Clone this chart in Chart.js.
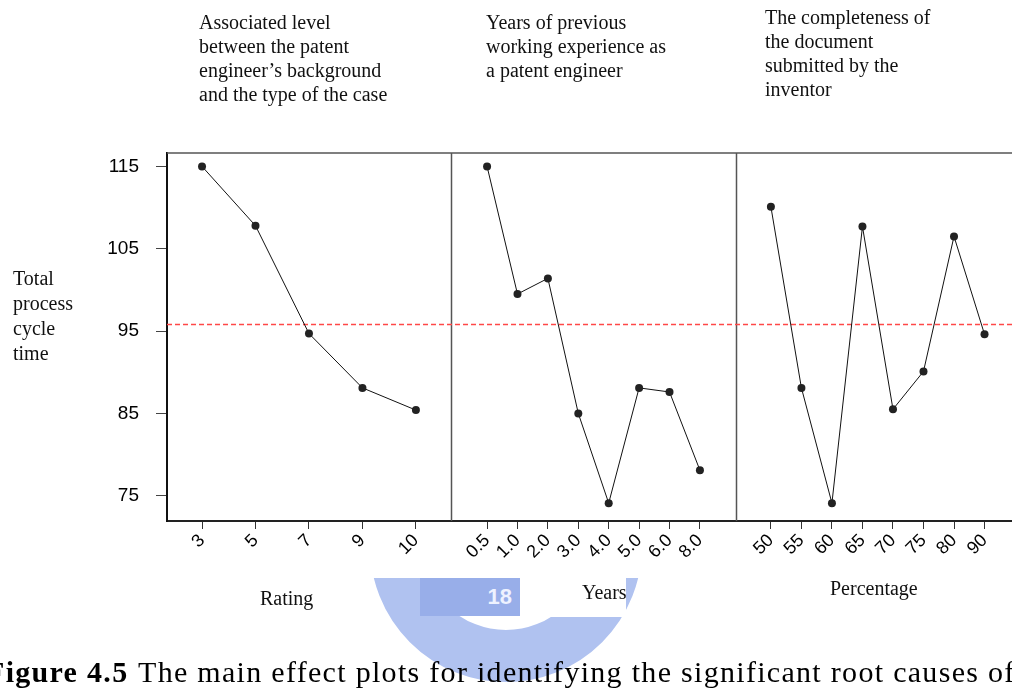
<!DOCTYPE html>
<html>
<head>
<meta charset="utf-8">
<script src="https://cdn.jsdelivr.net/npm/chart.js@4.4.0/dist/chart.umd.min.js"></script>
<style>
  html, body { margin: 0; padding: 0; background: #fff; }
  #wrap { position: relative; width: 1012px; height: 688px; overflow: hidden; }
  #chart { position: absolute; left: 0; top: 0; }
  .txt { position: absolute; font-family: "Liberation Serif", "Times New Roman", serif; font-size: 20px; line-height: 24px; color: #111; white-space: nowrap; }
  .cap { position: absolute; font-family: "Liberation Serif", "Times New Roman", serif; font-size: 30px; line-height: 30px; letter-spacing: 1.3px; color: #000; white-space: nowrap; }
  #mark { position: absolute; left: 300px; top: 578px; width: 420px; height: 110px; overflow: hidden; }
  #mark .ring { position: absolute; left: 70px; top: -168px; width: 272px; height: 272px; box-sizing: border-box; border: 52px solid #b0c2f0; border-radius: 50%; }
  #mark .band { position: absolute; left: 120px; top: 0; width: 100px; height: 38px; background: #98aee9; color: #eef2ff; font: bold 22px "Liberation Sans", Arial, sans-serif; line-height: 38px; text-align: right; padding-right: 8px; box-sizing: border-box; }
  #mark .blank { position: absolute; left: 220px; top: 0; width: 106px; height: 39px; background: #fff; }
</style>
</head>
<body>
<div id="wrap">
  <canvas id="chart" width="1012" height="688"></canvas>
  <div id="mark"><div class="ring"></div><div class="band">18</div><div class="blank"></div></div>
  <div class="txt" style="left:199px; top:10px;">Associated level<br>between the patent<br>engineer’s background<br>and the type of the case</div>
  <div class="txt" style="left:486px; top:10px;">Years of previous<br>working experience as<br>a patent engineer</div>
  <div class="txt" style="left:765px; top:5px;">The completeness of<br>the document<br>submitted by the<br>inventor</div>
  <div class="txt" style="left:13px; top:266px; line-height:25px;">Total<br>process<br>cycle<br>time</div>
  <div class="txt" style="left:260px; top:586px;">Rating</div>
  <div class="txt" style="left:582px; top:580px;">Years</div>
  <div class="txt" style="left:830px; top:576px;">Percentage</div>
  <div class="cap" style="left:-14px; top:657px;"><b>Figure 4.5</b></div>
  <div class="cap" style="left:138px; top:657px;">The main effect plots for identifying the significant root causes of</div>
</div>
<script>
// panel 1: associated level rating
const ratingLabels = ["3", "5", "7", "9", "10"];
const ratingValues = [115.0, 107.8, 94.7, 88.1, 85.4];
// panel 2: years of experience
const yearLabels = ["0.5", "1.0", "2.0", "3.0", "4.0", "5.0", "6.0", "8.0"];
const yearValues = [115.0, 99.5, 101.4, 85.0, 74.1, 88.1, 87.6, 78.1];
// panel 3: completeness percentage
const pctLabels = ["50", "55", "60", "65", "70", "75", "80", "90"];
const pctValues = [110.1, 88.1, 74.1, 107.7, 85.5, 90.1, 106.5, 94.6];

const yTicks = [75, 85, 95, 105, 115];
const meanValue = 95.9;

const sans = "'Liberation Sans', Arial, sans-serif";

function toPoints(values) {
  return values.map((v, i) => ({ x: i, y: v }));
}

function xAxis(labels, min, max, weight) {
  return {
    type: 'linear',
    position: 'bottom',
    stack: 'panels',
    stackWeight: weight,
    min: min,
    max: max,
    afterBuildTicks: (scale) => {
      scale.ticks = labels.map((l, i) => ({ value: i }));
    },
    afterFit: (scale) => {
      scale.height = 40;
      scale.paddingLeft = 0;
      scale.paddingRight = 0;
    },
    ticks: {
      autoSkip: false,
      minRotation: 45,
      maxRotation: 45,
      padding: 1,
      color: '#000',
      font: { family: sans, size: 18 },
      callback: (v) => labels[v]
    },
    grid: { display: true, drawOnChartArea: false, drawTicks: true, tickLength: 8, color: '#333', lineWidth: 1 },
    border: { display: true, color: '#222', width: 2 }
  };
}

function lineSet(values, axisId) {
  return {
    data: toPoints(values),
    xAxisID: axisId,
    yAxisID: 'y',
    borderColor: '#111',
    borderWidth: 1,
    backgroundColor: '#222',
    pointRadius: 4,
    pointBorderWidth: 0,
    tension: 0
  };
}

// panel frame, separators and the overall mean line
const framePlugin = {
  id: 'frame',
  beforeDatasetsDraw(chart) {
    const { ctx, chartArea, scales } = chart;
    ctx.save();
    ctx.strokeStyle = '#555';
    ctx.lineWidth = 1.5;
    ctx.beginPath();
    ctx.moveTo(chartArea.left, chartArea.top);
    ctx.lineTo(chartArea.right, chartArea.top);
    ['x2', 'x3'].forEach(id => {
      const x = Math.round(scales[id].left) + 0.5;
      ctx.moveTo(x, chartArea.top);
      ctx.lineTo(x, chartArea.bottom);
    });
    ctx.stroke();
    const ym = Math.round(scales.y.getPixelForValue(meanValue)) + 0.5;
    ctx.strokeStyle = '#ff4848';
    ctx.lineWidth = 1.5;
    ctx.setLineDash([5, 3]);
    ctx.beginPath();
    ctx.moveTo(chartArea.left, ym);
    ctx.lineTo(chartArea.right, ym);
    ctx.stroke();
    ctx.restore();
  }
};

new Chart(document.getElementById('chart'), {
  type: 'line',
  data: {
    datasets: [
      lineSet(ratingValues, 'x1'),
      lineSet(yearValues, 'x2'),
      lineSet(pctValues, 'x3')
    ]
  },
  options: {
    responsive: false,
    animation: false,
    layout: { autoPadding: false, padding: { left: 0, right: 0, top: 153, bottom: 127 } },
    plugins: { legend: { display: false }, tooltip: { enabled: false } },
    scales: {
      x1: xAxis(ratingLabels, -0.655, 4.66, 284.3),
      x2: xAxis(yearLabels, -1.18, 8.18, 284.7),
      x3: xAxis(pctLabels, -1.15, 7.9, 276.3),
      y: {
        type: 'linear',
        position: 'left',
        min: 71.93,
        max: 116.63,
        afterBuildTicks: (scale) => {
          scale.ticks = yTicks.map(v => ({ value: v }));
        },
        afterFit: (scale) => { scale.width = 167; },
        ticks: { padding: 17, color: '#000', font: { family: sans, size: 19 } },
        grid: { display: true, drawOnChartArea: false, drawTicks: true, tickLength: 11, color: '#444', lineWidth: 1 },
        border: { display: true, color: '#111', width: 2 }
      }
    }
  },
  plugins: [framePlugin]
});
</script>
</body>
</html>
